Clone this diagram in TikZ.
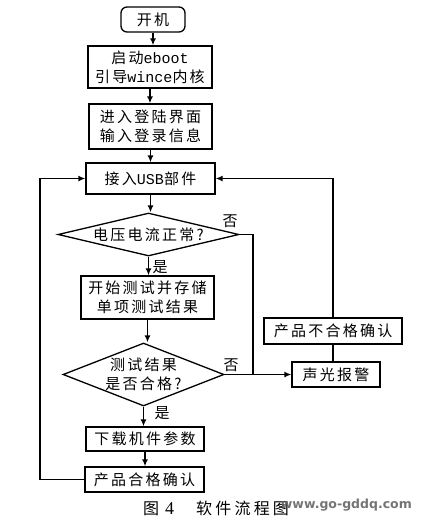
\documentclass[tikz,border=0pt]{standalone}
\usepackage{fontspec}
\setmainfont{Liberation Serif}
\newfontfamily\cjk[LetterSpace=15]{Noto Sans CJK SC}
\newfontfamily\capfont[LetterSpace=20]{Noto Sans CJK SC}
\newfontfamily\lat{Liberation Mono}
\newfontfamily\wmfont{DejaVu Sans}
\usetikzlibrary{shapes.geometric,arrows.meta}
\begin{document}
\begin{tikzpicture}[x=1pt,y=-1pt,
  every node/.style={font=\cjk\fontsize{15}{19}\selectfont, text=black},
  box/.style={draw, line width=1.3pt, inner sep=0pt, align=center},
  dia/.style={draw, diamond, line width=1.3pt, inner sep=0pt},
  lbl/.style={inner sep=0pt},
  conn/.style={line width=1.4pt},
  arr/.style={conn, -{Latex[length=7pt,width=6pt]}}]
\fill[white] (0,0) rectangle (421,523);
\useasboundingbox (0,0) rectangle (421,523);

\node[box, rounded corners=6pt, minimum width=64pt, minimum height=25pt] (start) at (153,19.5) {开机};
\node[box, minimum width=124pt, minimum height=42pt] (b1) at (150,67) {启动{\lat eboot}\\引导{\lat wince}内核};
\node[box, minimum width=123pt, minimum height=45pt] (b2) at (150.5,126.5) {进入登陆界面\\输入登录信息};
\node[box, minimum width=129pt, minimum height=31pt] (usb) at (150.5,178.5) {接入{\lat USB}部件};
\node[dia, minimum width=181pt, minimum height=43pt] (d1) at (148.5,234.5) {};
\node[lbl] (d1t) at (d1) {电压电流正常?};
\node[box, minimum width=133pt, minimum height=43pt] (b3) at (147.5,297.5) {开始测试并存储\\单项测试结果};
\node[dia, minimum width=161pt, minimum height=63pt] (d2) at (143.5,374.5) {};
\node[lbl, align=center] (d2t) at (d2) {测试结果\\是否合格?};
\node[box, minimum width=118pt, minimum height=24pt] (b4) at (145,439) {下载机件参数};
\node[box, minimum width=119pt, minimum height=25pt] (b5) at (144.5,479.5) {产品合格确认};
\node[box, minimum width=88pt, minimum height=25pt] (alarm) at (336,374.5) {声光报警};
\node[box, minimum width=138pt, minimum height=26pt] (fail) at (333,331) {产品不合格确认};

\coordinate (jn) at (253,374.5);
\coordinate (lp) at (40,330);

\draw[arr] (start.south) -- (start.south |- b1.north);
\draw[arr] (b1.south) -- (b1.south |- b2.north);
\draw[arr] (b2.south) -- (b2.south |- usb.north);
\draw[arr] (usb.south) -- (usb.south |- d1.north);
\draw[arr] (d1.south) -- (d1.south |- b3.north);
\draw[arr] (b3.south) -- (b3.south |- d2.north);
\draw[arr] (d2.south) -- (d2.south |- b4.north);
\draw[arr] (b4.south) -- (b4.south |- b5.north);
\draw[conn] (d1.east) -| (jn);
\draw[arr] (d2.east) -- (alarm.west);
\draw[conn] (alarm.north -| fail.south) -- (fail.south);
\draw[arr] (fail.north) |- (usb.east);
\draw[arr] (b5.west) -| (lp) |- (usb.west);

\node[lbl] (no1) at (230,221) {否};
\node[lbl] (no2) at (231,365) {否};
\node[lbl] (yes1) at (160,267) {是};
\node[lbl] (yes2) at (162,413) {是};

\node[lbl, anchor=west, font=\capfont\fontsize{16}{19}\selectfont] (cap) at (143,508) {图\kern6pt{\rmfamily\fontsize{18}{19}\selectfont 4}\kern22pt 软件流程图};
\node[lbl, anchor=east, text=black!60, opacity=0.9, font=\wmfont\bfseries\fontsize{12.5}{14}\selectfont] (wm) at (412,505) {www.go-gddq.com};
\end{tikzpicture}
\end{document}
